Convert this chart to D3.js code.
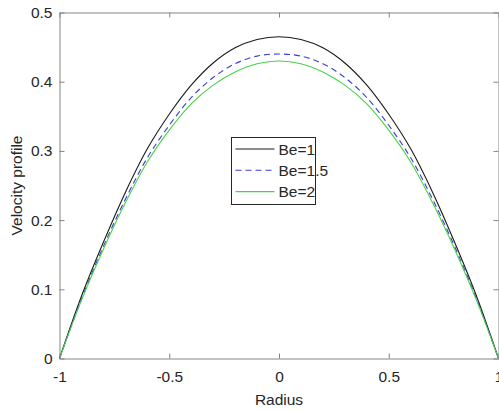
<!DOCTYPE html>
<html>
<head>
<meta charset="utf-8">
<script src="https://cdn.jsdelivr.net/npm/d3@7"></script>
<style>
  body { margin: 0; background: #fff; }
  svg { display: block; font-family: "Liberation Sans", Arial, sans-serif; }
  .tick text { fill: #262626; font-size: 15.5px; }
</style>
</head>
<body>
<svg id="gfx" width="499" height="411"></svg>
<script>
// radius positions and velocity values
const radius = [-1, -0.9, -0.8, -0.7, -0.6, -0.5, -0.4, -0.3, -0.2, -0.1, 0,
                0.1, 0.2, 0.3, 0.4, 0.5, 0.6, 0.7, 0.8, 0.9, 1];
const be1   = [0, 0.090, 0.168, 0.240, 0.303, 0.353, 0.395, 0.427, 0.449, 0.461, 0.465,
               0.461, 0.449, 0.427, 0.395, 0.353, 0.303, 0.240, 0.168, 0.090, 0];
const be15  = [0, 0.086, 0.162, 0.230, 0.290, 0.337, 0.377, 0.406, 0.426, 0.437, 0.440,
               0.437, 0.426, 0.406, 0.377, 0.337, 0.290, 0.230, 0.162, 0.086, 0];
const be2   = [0, 0.084, 0.158, 0.225, 0.284, 0.330, 0.368, 0.395, 0.414, 0.426, 0.430,
               0.426, 0.414, 0.395, 0.368, 0.330, 0.284, 0.225, 0.158, 0.084, 0];
const xTicks = [-1, -0.5, 0, 0.5, 1];
const yTicks = [0, 0.1, 0.2, 0.3, 0.4, 0.5];
const series = [
    { name: "Be=1",   values: be1,  color: "#1a1a1a", dash: null },
    { name: "Be=1.5", values: be15, color: "#3d3dd6", dash: "6,4" },
    { name: "Be=2",   values: be2,  color: "#46d446", dash: null }
];

const svg = d3.select("#gfx");
const plotL = 59.5, plotR = 498.5, plotT = 12.5, plotB = 358.5;
const axisColor = "#858585";
const fmt = d => String(d);   // plain hyphen minus like the original

const x = d3.scaleLinear().domain([-1, 1]).range([plotL, plotR]);
const y = d3.scaleLinear().domain([0, 0.5]).range([plotB, plotT]);

// curves
const line = d3.line()
    .x((d, i) => x(radius[i]))
    .y(d => y(d))
    .curve(d3.curveCatmullRom);

svg.append("g").attr("class", "curves")
    .selectAll("path")
    .data(series)
    .enter().append("path")
    .attr("d", d => line(d.values))
    .attr("fill", "none")
    .attr("stroke", d => d.color)
    .attr("stroke-width", 1.1)
    .attr("stroke-dasharray", d => d.dash);

// axes (ticks inside, box on)
const tl = 5;
const xAxis = svg.append("g").attr("transform", "translate(0," + plotB + ")")
    .call(d3.axisBottom(x).tickValues(xTicks).tickSizeInner(-tl).tickSizeOuter(0)
        .tickPadding(12).tickFormat(fmt));
const yAxis = svg.append("g").attr("transform", "translate(" + plotL + ",0)")
    .call(d3.axisLeft(y).tickValues(yTicks).tickSizeInner(-tl).tickSizeOuter(0)
        .tickPadding(7).tickFormat(fmt));
const xTop = svg.append("g").attr("transform", "translate(0," + plotT + ")")
    .call(d3.axisTop(x).tickValues(xTicks).tickSizeInner(-tl).tickSizeOuter(0).tickFormat(""));
const yRight = svg.append("g").attr("transform", "translate(" + plotR + ",0)")
    .call(d3.axisRight(y).tickValues(yTicks).tickSizeInner(-tl).tickSizeOuter(0).tickFormat(""));

[xAxis, yAxis, xTop, yRight].forEach(g => {
    g.selectAll(".domain").attr("stroke", axisColor);
    g.selectAll(".tick line").attr("stroke", axisColor);
    g.attr("font-family", null).attr("font-size", null);
});
xAxis.selectAll(".tick text").attr("dy", "0.72em");

// axis labels
svg.append("text")
    .attr("x", (plotL + plotR) / 2).attr("y", 405)
    .attr("text-anchor", "middle")
    .attr("fill", "#262626").attr("font-size", 15.5)
    .text("Radius");
svg.append("text")
    .attr("transform", "translate(22," + ((plotT + plotB) / 2) + ") rotate(-90)")
    .attr("text-anchor", "middle")
    .attr("fill", "#262626").attr("font-size", 15.5)
    .text("Velocity profile");

// legend
const legend = svg.append("g").attr("transform", "translate(231.5,137.5)");
legend.append("rect")
    .attr("width", 84).attr("height", 67)
    .attr("fill", "#fff").attr("stroke", "#262626").attr("stroke-width", 1);
const rows = legend.selectAll("g.row")
    .data(series)
    .enter().append("g").attr("class", "row")
    .attr("transform", (d, i) => "translate(0," + (11.5 + i * 21.3) + ")");
rows.append("line")
    .attr("x1", 4).attr("x2", 43)
    .attr("stroke", d => d.color)
    .attr("stroke-width", 1.1)
    .attr("stroke-dasharray", d => d.dash);
rows.append("text")
    .attr("x", 47).attr("dy", "0.36em")
    .attr("fill", "#262626").attr("font-size", 15.5)
    .text(d => d.name);
</script>
</body>
</html>
